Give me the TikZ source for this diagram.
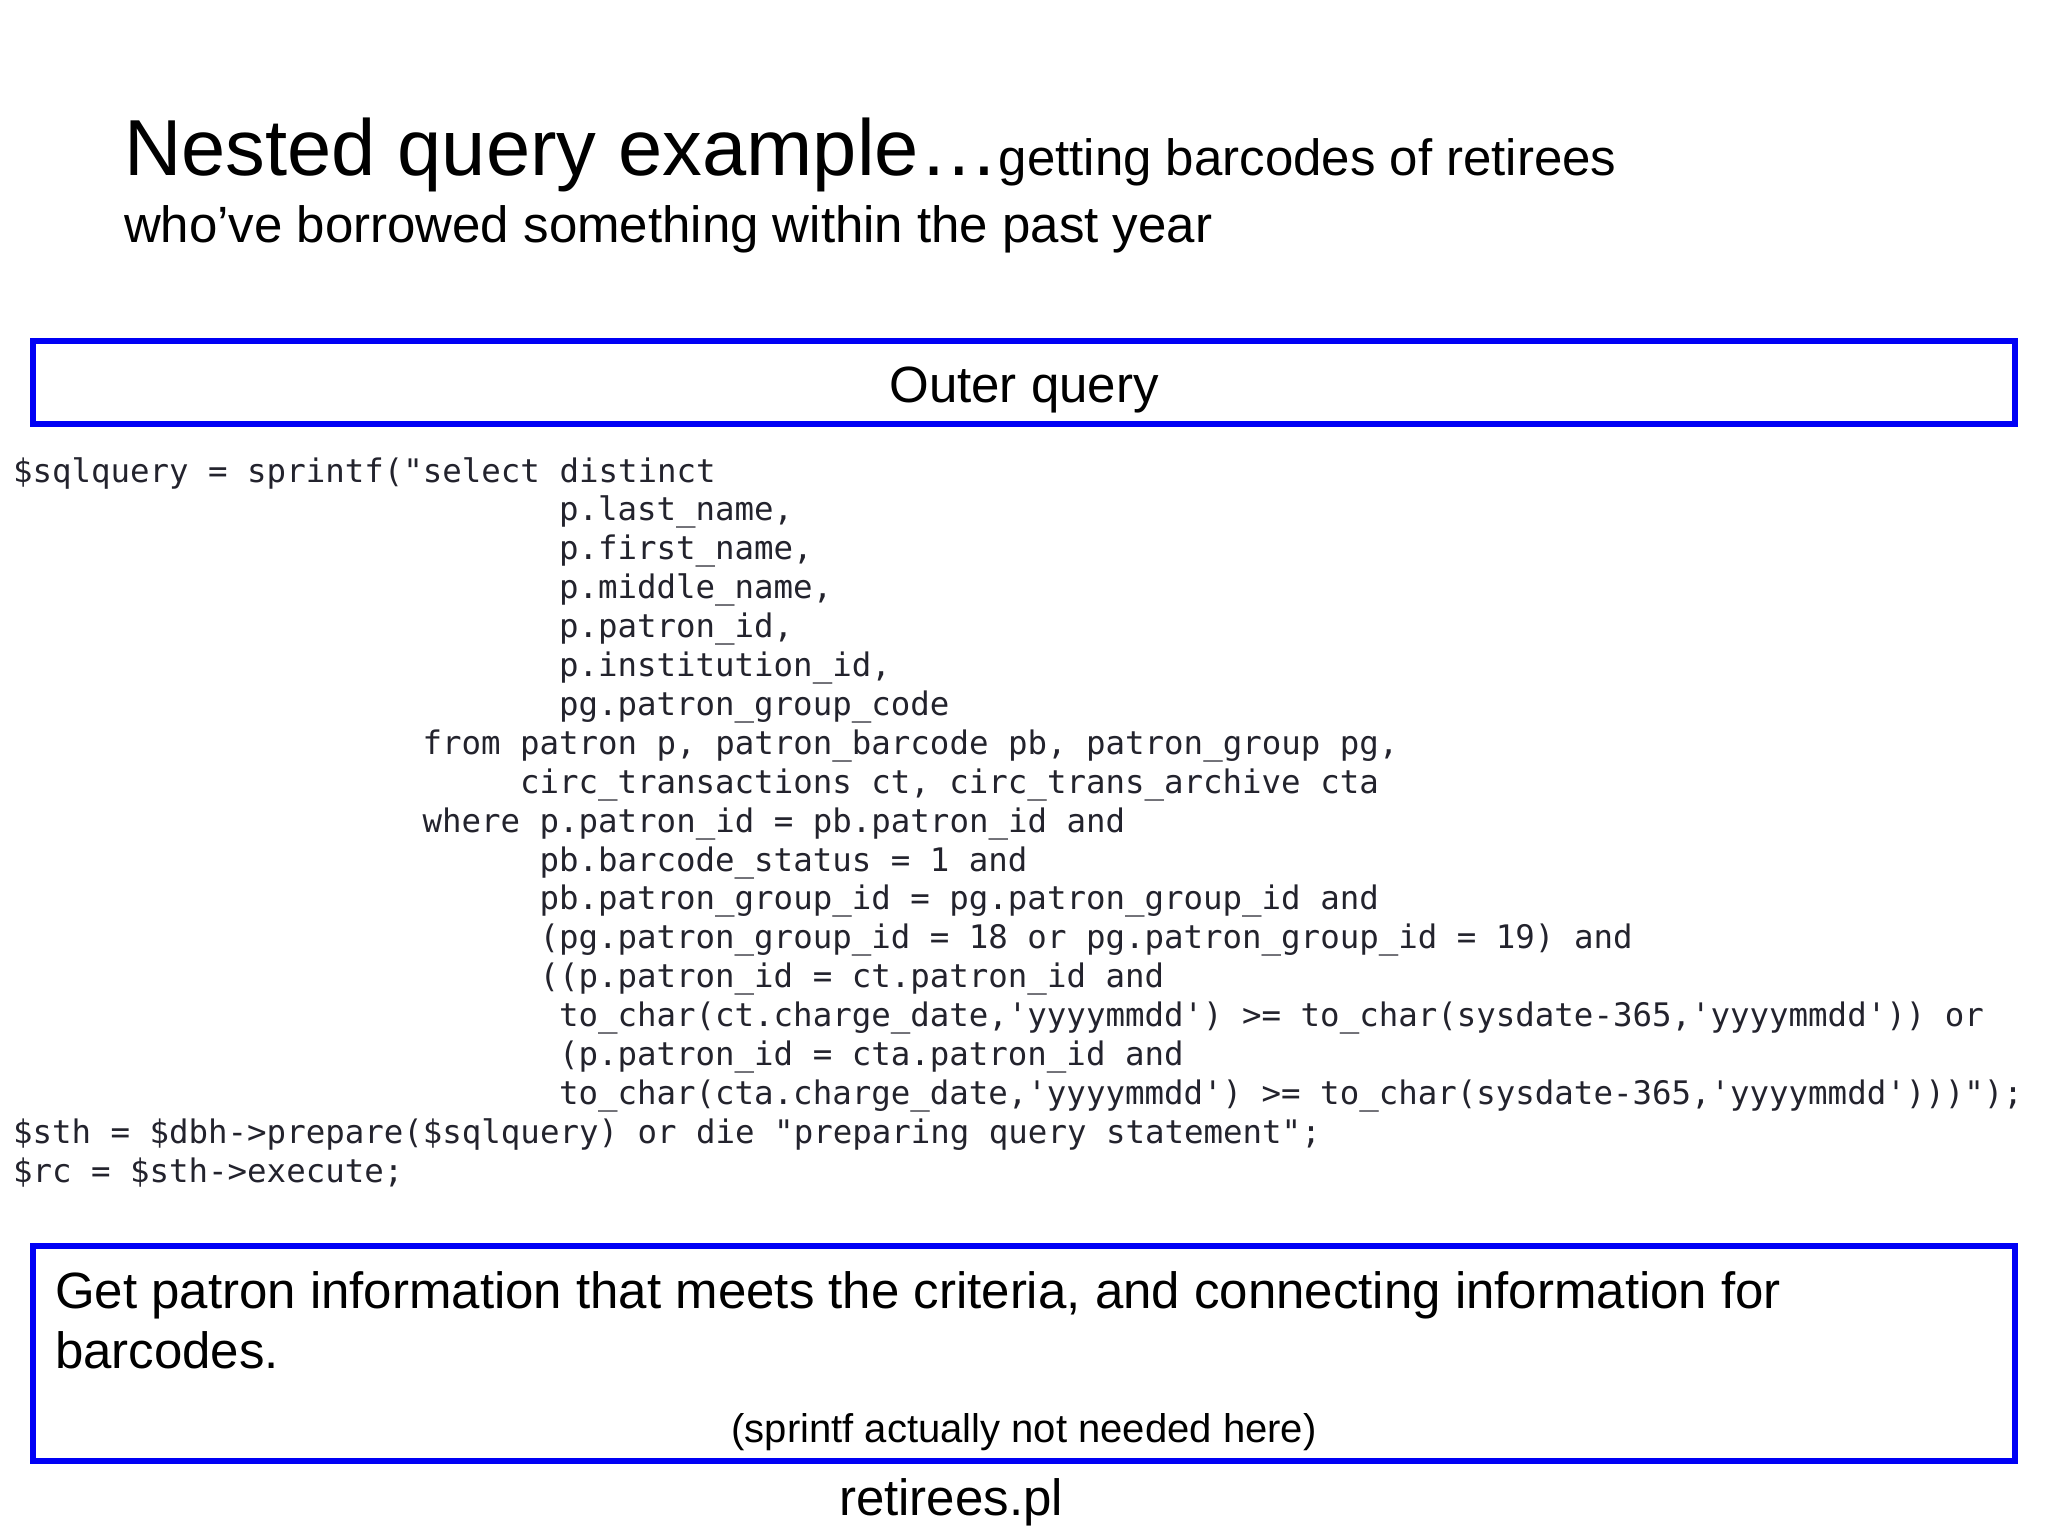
\documentclass[tikz,border=0pt]{standalone}
\usepackage{fontspec}
\setmainfont{Liberation Sans}
\newfontfamily\codefont{DejaVu Sans Mono}[Ligatures=TeXOff]
\definecolor{boxblue}{RGB}{0,0,245}
\definecolor{codeink}{RGB}{35,35,45}
\newcommand\subsize{\fontsize{14.5pt}{17pt}\selectfont}
\newcommand\codeat[4]{\node[codeline] (#1) at ({13+19.5*#2},{482+38.9*(#3-1)}) {#4};}
\tikzset{
  txt/.style={inner sep=0pt, outer sep=0pt, anchor=base west},
  titletxt/.style={txt, font=\fontsize{22.6pt}{26pt}\selectfont},
  subtxt/.style={txt, font=\subsize},
  notetxt/.style={inner sep=0pt, anchor=base, font=\fontsize{11.38pt}{13pt}\selectfont},
  codeline/.style={txt, text=codeink, font=\codefont\fontsize{9.22pt}{11pt}\selectfont},
  bluebox/.style={draw=boxblue, line width=1.707pt, inner sep=0pt, minimum width=19.8cm},
}
\begin{document}
\begin{tikzpicture}[x=0.01cm, y=-0.01cm]
\useasboundingbox (0,0) rectangle (2048,1536);
% title
\node[titletxt] (title) at (124,175) {Nested query example…{\subsize getting barcodes of retirees}};
\node[subtxt] (title2) at (124,242) {who’ve borrowed something within the past year};
% outer query box
\node[bluebox, minimum height=0.83cm] (outer) at (1024,382.5) {};
\node[subtxt, anchor=base] (outerlabel) at (1024,402) {Outer query};
% code
\codeat{c1}{0}{1}{\$sqlquery = sprintf("select distinct}
\codeat{c2}{28}{2}{p.last\_name,}
\codeat{c3}{28}{3}{p.first\_name,}
\codeat{c4}{28}{4}{p.middle\_name,}
\codeat{c5}{28}{5}{p.patron\_id,}
\codeat{c6}{28}{6}{p.institution\_id,}
\codeat{c7}{28}{7}{pg.patron\_group\_code}
\codeat{c8}{21}{8}{from patron p, patron\_barcode pb, patron\_group pg,}
\codeat{c9}{26}{9}{circ\_transactions ct, circ\_trans\_archive cta}
\codeat{c10}{21}{10}{where p.patron\_id = pb.patron\_id and}
\codeat{c11}{27}{11}{pb.barcode\_status = 1 and}
\codeat{c12}{27}{12}{pb.patron\_group\_id = pg.patron\_group\_id and}
\codeat{c13}{27}{13}{(pg.patron\_group\_id = 18 or pg.patron\_group\_id = 19) and}
\codeat{c14}{27}{14}{((p.patron\_id = ct.patron\_id and}
\codeat{c15}{28}{15}{to\_char(ct.charge\_date,'yyyymmdd') >= to\_char(sysdate-365,'yyyymmdd')) or}
\codeat{c16}{28}{16}{(p.patron\_id = cta.patron\_id and}
\codeat{c17}{28}{17}{to\_char(cta.charge\_date,'yyyymmdd') >= to\_char(sysdate-365,'yyyymmdd')))");}
\codeat{c18}{0}{18}{\$sth = \$dbh->prepare(\$sqlquery) or die "preparing query statement";}
\codeat{c19}{0}{19}{\$rc = \$sth->execute;}
% bottom box
\node[bluebox, minimum height=2.15cm] (note) at (1024,1353.5) {};
\node[subtxt] (note1) at (55,1308) {Get patron information that meets the criteria, and connecting information for};
\node[subtxt] (note2) at (55,1368) {barcodes.};
\node[notetxt] (note3) at (1024,1442) {(sprintf actually not needed here)};
% file name
\node[subtxt, anchor=base] (fname) at (951,1515) {retirees.pl};
\end{tikzpicture}
\end{document}
